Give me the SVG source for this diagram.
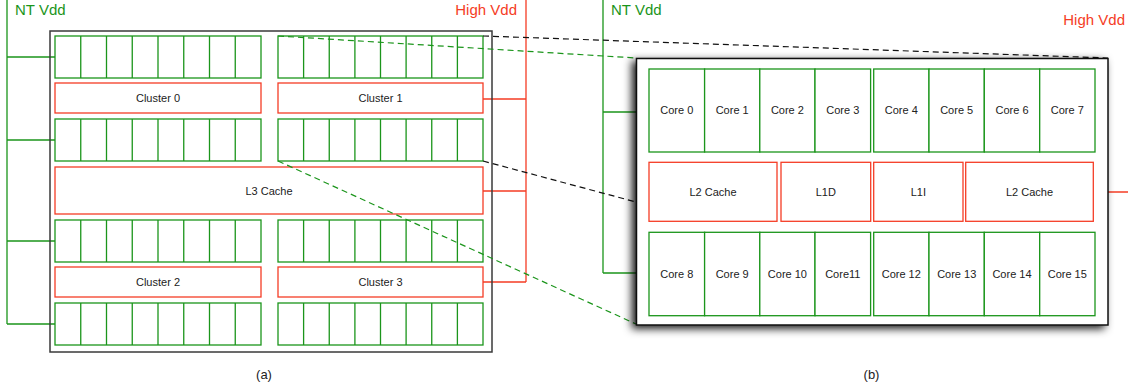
<svg xmlns="http://www.w3.org/2000/svg" width="1128" height="385" viewBox="0 0 1128 385">
<defs>
<filter id="shadow" x="-10%" y="-10%" width="120%" height="125%">
<feDropShadow dx="-4" dy="3" stdDeviation="4" flood-color="#000" flood-opacity="0.9"/>
</filter>
<style>
.g{fill:none;stroke:#1b951b;stroke-width:1.3}
.gf{fill:#fff;stroke:#1b951b;stroke-width:1.3}
.r{fill:#fff;stroke:#f53c25;stroke-width:1.3}
.rl{fill:none;stroke:#f53c25;stroke-width:1.3}
.t{font-family:"Liberation Sans",Arial,sans-serif;font-size:11px;fill:#222;text-anchor:middle}
.big{font-family:"Liberation Sans",Arial,sans-serif;font-size:15px}
.cap{font-family:"Liberation Sans",Arial,sans-serif;font-size:13px;fill:#222;text-anchor:middle}
.dk{fill:none;stroke:#111;stroke-width:1.2;stroke-dasharray:6,4}
.dg{fill:none;stroke:#1b951b;stroke-width:1.2;stroke-dasharray:6,4}
</style>
</defs>
<rect width="1128" height="385" fill="#fff"/>

<!-- (a) power rails -->
<g id="a-ntvdd">
<text class="big" x="15" y="15" fill="#1b951b">NT Vdd</text>
<path class="g" d="M7,0V324M7,57H55M7,140H55M7,241H55M7,324H55"/>
</g>
<g id="a-highvdd">
<text class="big" x="517" y="15" fill="#f53c25" text-anchor="end">High Vdd</text>
<path class="rl" d="M526,0V282M483,99H526M483,191H526M483,282H526"/>
</g>

<g id="a-chip">
<rect x="50" y="31" width="442" height="321" fill="none" stroke="#3a3a3a" stroke-width="1.5"/>
</g>

<!-- core rows (a) -->
<g id="a-row1-left"><rect class="gf" x="55" y="36" width="206" height="42"/><path class="g" d="M80.75,36V78M106.5,36V78M132.25,36V78M158,36V78M183.75,36V78M209.5,36V78M235.25,36V78"/></g>
<g id="a-row1-right"><rect class="gf" x="278" y="36" width="205" height="42"/><path class="g" d="M303.6,36V78M329.25,36V78M354.9,36V78M380.5,36V78M406.1,36V78M431.75,36V78M457.4,36V78"/></g>
<g id="a-row2-left"><rect class="gf" x="55" y="119" width="206" height="42"/><path class="g" d="M80.75,119V161M106.5,119V161M132.25,119V161M158,119V161M183.75,119V161M209.5,119V161M235.25,119V161"/></g>
<g id="a-row2-right"><rect class="gf" x="278" y="119" width="205" height="42"/><path class="g" d="M303.6,119V161M329.25,119V161M354.9,119V161M380.5,119V161M406.1,119V161M431.75,119V161M457.4,119V161"/></g>
<g id="a-row3-left"><rect class="gf" x="55" y="220" width="206" height="42"/><path class="g" d="M80.75,220V262M106.5,220V262M132.25,220V262M158,220V262M183.75,220V262M209.5,220V262M235.25,220V262"/></g>
<g id="a-row3-right"><rect class="gf" x="278" y="220" width="205" height="42"/><path class="g" d="M303.6,220V262M329.25,220V262M354.9,220V262M380.5,220V262M406.1,220V262M431.75,220V262M457.4,220V262"/></g>
<g id="a-row4-left"><rect class="gf" x="55" y="303" width="206" height="42"/><path class="g" d="M80.75,303V345M106.5,303V345M132.25,303V345M158,303V345M183.75,303V345M209.5,303V345M235.25,303V345"/></g>
<g id="a-row4-right"><rect class="gf" x="278" y="303" width="205" height="42"/><path class="g" d="M303.6,303V345M329.25,303V345M354.9,303V345M380.5,303V345M406.1,303V345M431.75,303V345M457.4,303V345"/></g>

<g id="a-cluster0"><rect class="r" x="55" y="83" width="206" height="30"/><text class="t" x="158" y="102">Cluster 0</text></g>
<g id="a-cluster1"><rect class="r" x="278" y="83" width="205" height="30"/><text class="t" x="380.5" y="102">Cluster 1</text></g>
<g id="a-l3"><rect class="r" x="55" y="167" width="428" height="47"/><text class="t" x="269" y="195">L3 Cache</text></g>
<g id="a-cluster2"><rect class="r" x="55" y="267" width="206" height="30"/><text class="t" x="158" y="286">Cluster 2</text></g>
<g id="a-cluster3"><rect class="r" x="278" y="267" width="205" height="30"/><text class="t" x="380.5" y="286">Cluster 3</text></g>

<text class="cap" x="264" y="379">(a)</text>

<!-- (b) power rails -->
<g id="b-ntvdd">
<text class="big" x="611" y="15" fill="#1b951b">NT Vdd</text>
<path class="g" d="M603,0V273M603,112H649M603,273H649"/>
</g>
<g id="b-highvdd">
<text class="big" x="1125" y="25" fill="#f53c25" text-anchor="end">High Vdd</text>
<path class="rl" d="M1093,192H1128"/>
</g>

<!-- connectors (zoom lines) -->
<g id="connectors">
<path class="dk" d="M483,36L1108,58"/>
<path class="dg" d="M278,36L636,58"/>
<path class="dk" d="M483,161L636,202"/>
<path class="dg" d="M278,161L636,324"/>
</g>

<g id="b-chip">
<rect x="636.5" y="58.5" width="471.5" height="266.5" fill="#fff" stroke="#111" stroke-width="1.5" filter="url(#shadow)"/>
</g>

<g id="b-core0"><rect class="gf" x="649" y="69" width="55.6" height="83"/><text class="t" x="676.8" y="114">Core 0</text></g>
<g id="b-core1"><rect class="gf" x="704.6" y="69" width="55.2" height="83"/><text class="t" x="732.2" y="114">Core 1</text></g>
<g id="b-core2"><rect class="gf" x="759.8" y="69" width="55.2" height="83"/><text class="t" x="787.4" y="114">Core 2</text></g>
<g id="b-core3"><rect class="gf" x="815" y="69" width="55.6" height="83"/><text class="t" x="842.8" y="114">Core 3</text></g>
<g id="b-core4"><rect class="gf" x="873.7" y="69" width="55.3" height="83"/><text class="t" x="901.3" y="114">Core 4</text></g>
<g id="b-core5"><rect class="gf" x="929" y="69" width="55.3" height="83"/><text class="t" x="956.7" y="114">Core 5</text></g>
<g id="b-core6"><rect class="gf" x="984.3" y="69" width="55.4" height="83"/><text class="t" x="1012" y="114">Core 6</text></g>
<g id="b-core7"><rect class="gf" x="1039.7" y="69" width="55.3" height="83"/><text class="t" x="1067.3" y="114">Core 7</text></g>

<g id="b-l2-left"><rect class="r" x="649" y="162.3" width="128" height="59"/><text class="t" x="713" y="196">L2 Cache</text></g>
<g id="b-l1d"><rect class="r" x="781" y="162.3" width="89.7" height="59"/><text class="t" x="825.8" y="196">L1D</text></g>
<g id="b-l1i"><rect class="r" x="873.7" y="162.3" width="89.3" height="59"/><text class="t" x="918.3" y="196">L1I</text></g>
<g id="b-l2-right"><rect class="r" x="965.7" y="162.3" width="127.6" height="59"/><text class="t" x="1029.5" y="196">L2 Cache</text></g>

<g id="b-core8"><rect class="gf" x="649" y="232.3" width="55.6" height="83.4"/><text class="t" x="676.8" y="278">Core 8</text></g>
<g id="b-core9"><rect class="gf" x="704.6" y="232.3" width="55.2" height="83.4"/><text class="t" x="732.2" y="278">Core 9</text></g>
<g id="b-core10"><rect class="gf" x="759.8" y="232.3" width="55.2" height="83.4"/><text class="t" x="787.4" y="278">Core 10</text></g>
<g id="b-core11"><rect class="gf" x="815" y="232.3" width="55.6" height="83.4"/><text class="t" x="842.8" y="278">Core11</text></g>
<g id="b-core12"><rect class="gf" x="873.7" y="232.3" width="55.3" height="83.4"/><text class="t" x="901.3" y="278">Core 12</text></g>
<g id="b-core13"><rect class="gf" x="929" y="232.3" width="55.3" height="83.4"/><text class="t" x="956.7" y="278">Core 13</text></g>
<g id="b-core14"><rect class="gf" x="984.3" y="232.3" width="55.4" height="83.4"/><text class="t" x="1012" y="278">Core 14</text></g>
<g id="b-core15"><rect class="gf" x="1039.7" y="232.3" width="55.3" height="83.4"/><text class="t" x="1067.3" y="278">Core 15</text></g>

<text class="cap" x="871.5" y="379">(b)</text>
</svg>
